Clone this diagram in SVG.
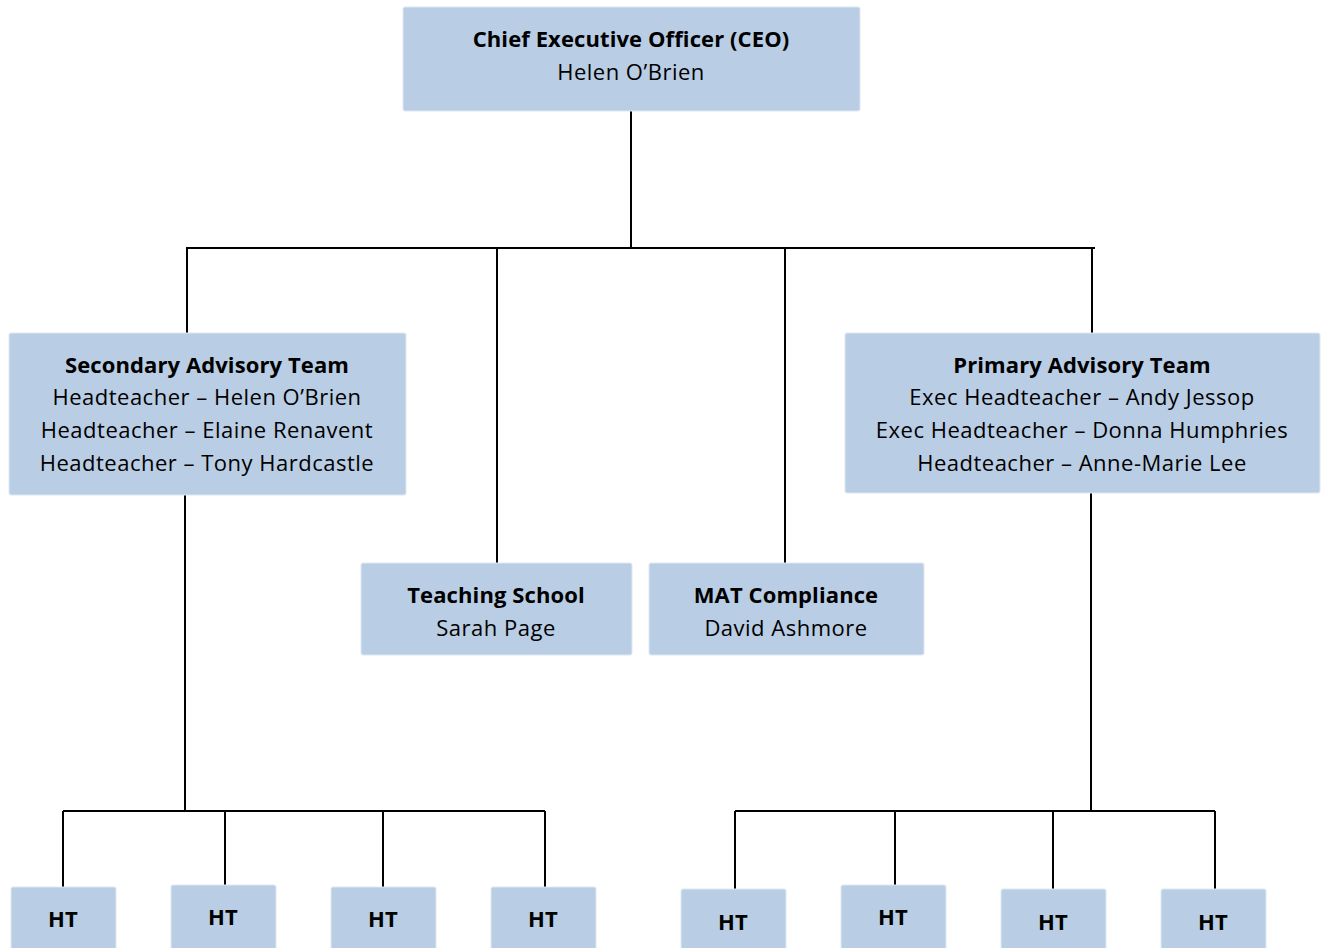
<svg xmlns="http://www.w3.org/2000/svg" width="1327" height="948" viewBox="0 0 1327 948">
<style>
.box{fill:#b9cde4;stroke:#dfe8f2;stroke-width:1}
text{font-family:"Open Sans","Noto Sans",sans-serif;font-size:22px;fill:#000;text-anchor:middle;letter-spacing:0.5px}
.b{font-weight:bold;letter-spacing:0.1px}
.c{stroke:#000;stroke-width:2;fill:none}
</style>
<rect width="1327" height="948" fill="#fff"/>
<g id="connectors" class="c">
<path d="M631 111V248M186 248H1095M187 248V333M497 248V563M785 248V563M1092 248V333"/>
<path d="M185 495V811M63 811H545M63 811V887M225 811V885M383 811V887M545 811V887"/>
<path d="M1091 493V811M735 811H1215M735 811V889M895 811V885M1053 811V889M1215 811V889"/>
</g>
<g id="ceo"><rect class="box" x="403" y="7" width="457" height="104" rx="2"/>
<text class="b" x="631" y="47">Chief Executive Officer (CEO)</text>
<text x="631" y="80">Helen O’Brien</text></g>
<g id="secondary"><rect class="box" x="9" y="333" width="397" height="162" rx="2"/>
<text class="b" x="207" y="373">Secondary Advisory Team</text>
<text x="207" y="405">Headteacher – Helen O’Brien</text>
<text x="207" y="438">Headteacher – Elaine Renavent</text>
<text x="207" y="471">Headteacher – Tony Hardcastle</text></g>
<g id="primary"><rect class="box" x="845" y="333" width="475" height="160" rx="2"/>
<text class="b" x="1082" y="373">Primary Advisory Team</text>
<text x="1082" y="405">Exec Headteacher – Andy Jessop</text>
<text x="1082" y="438">Exec Headteacher – Donna Humphries</text>
<text x="1082" y="471">Headteacher – Anne-Marie Lee</text></g>
<g id="teaching"><rect class="box" x="361" y="563" width="271" height="92" rx="2"/>
<text class="b" x="496" y="603">Teaching School</text>
<text x="496" y="636">Sarah Page</text></g>
<g id="mat"><rect class="box" x="649" y="563" width="275" height="92" rx="2"/>
<text class="b" x="786" y="603">MAT Compliance</text>
<text x="786" y="636">David Ashmore</text></g>
<g id="ht1"><rect class="box" x="11" y="887" width="105" height="70" rx="2"/><text class="b" x="63" y="927">HT</text></g>
<g id="ht2"><rect class="box" x="171" y="885" width="105" height="72" rx="2"/><text class="b" x="223" y="925">HT</text></g>
<g id="ht3"><rect class="box" x="331" y="887" width="105" height="70" rx="2"/><text class="b" x="383" y="927">HT</text></g>
<g id="ht4"><rect class="box" x="491" y="887" width="105" height="70" rx="2"/><text class="b" x="543" y="927">HT</text></g>
<g id="ht5"><rect class="box" x="681" y="889" width="105" height="70" rx="2"/><text class="b" x="733" y="930">HT</text></g>
<g id="ht6"><rect class="box" x="841" y="885" width="105" height="72" rx="2"/><text class="b" x="893" y="925">HT</text></g>
<g id="ht7"><rect class="box" x="1001" y="889" width="105" height="70" rx="2"/><text class="b" x="1053" y="930">HT</text></g>
<g id="ht8"><rect class="box" x="1161" y="889" width="105" height="70" rx="2"/><text class="b" x="1213" y="930">HT</text></g>
</svg>
